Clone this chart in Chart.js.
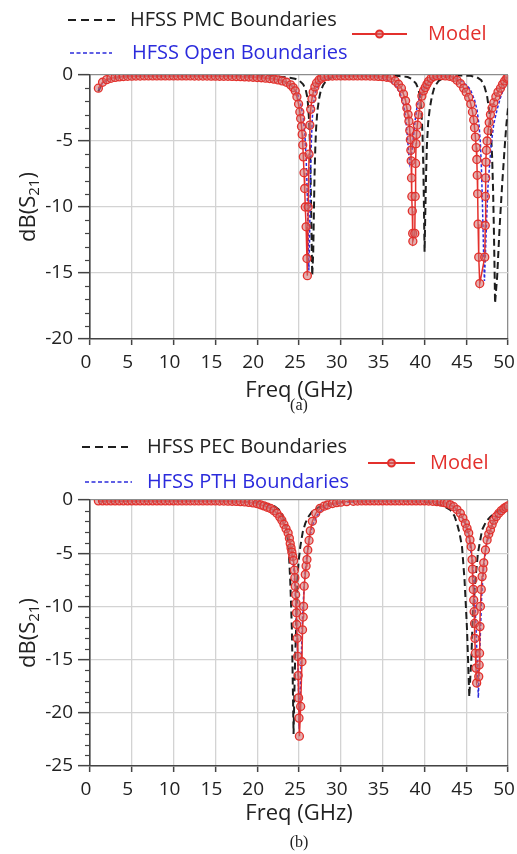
<!DOCTYPE html>
<html>
<head>
<meta charset="utf-8">
<script src="https://cdn.jsdelivr.net/npm/chart.js@4.4.0/dist/chart.umd.min.js"></script>
<style>
  body { margin: 0; background: #fff; width: 517px; height: 854px; position: relative; overflow: hidden; }
  .wrap { position: absolute; left: 0; width: 517px; }
  #wa { top: 0; height: 420px; }
  #wb { top: 420px; height: 434px; }
  .cap { position: absolute; left: 90px; width: 418px; text-align: center; font-family: 'Liberation Serif', serif; font-size: 16px; color: #222; }
</style>
</head>
<body>
<div class="wrap" id="wa"><canvas id="chartA" width="517" height="420"></canvas></div>
<div class="wrap" id="wb"><canvas id="chartB" width="517" height="434"></canvas></div>
<div class="cap" style="top:396px">(a)</div>
<div class="cap" style="top:833px">(b)</div>
<script>
// ---- data: [freq GHz, dB(S21)] ----
const freqMin = 0, freqMax = 50, freqStep = 5;
const dbStep = 5;
const dbMinA = -20, dbMinB = -25;

// (a)
const modelA = [[1.0,-1.0],[1.5,-0.55],[2.0,-0.35],[2.5,-0.25],[3.0,-0.18],[3.5,-0.14],[4.0,-0.12],[4.5,-0.1],[5.0,-0.09],[5.5,-0.08],[6.0,-0.08],[6.5,-0.07],[7.0,-0.07],[7.5,-0.07],[8.0,-0.07],[8.5,-0.07],[9.0,-0.07],[9.5,-0.07],[10.0,-0.07],[10.5,-0.07],[11.0,-0.07],[11.5,-0.07],[12.0,-0.07],[12.5,-0.08],[13.0,-0.08],[13.5,-0.08],[14.0,-0.08],[14.5,-0.09],[15.0,-0.09],[15.5,-0.1],[16.0,-0.1],[16.5,-0.1],[17.0,-0.11],[17.5,-0.12],[18.0,-0.13],[18.5,-0.14],[19.0,-0.15],[19.5,-0.17],[20.0,-0.19],[20.5,-0.21],[21.0,-0.24],[21.5,-0.27],[22.0,-0.31],[22.5,-0.37],[23.0,-0.45],[23.5,-0.55],[24.0,-0.75],[24.3,-0.95],[24.55,-1.2],[24.75,-1.65],[24.95,-2.2],[25.1,-2.8],[25.2,-3.3],[25.3,-3.9],[25.38,-4.5],[25.45,-5.3],[25.52,-6.2],[25.6,-7.4],[25.68,-8.6],[25.75,-10.0],[25.85,-11.5],[25.95,-13.9],[26.0,-15.2],[26.1,-10.0],[26.2,-6.0],[26.3,-3.8],[26.4,-2.6],[26.55,-1.8],[26.7,-1.3],[26.9,-0.9],[27.1,-0.6],[27.4,-0.38],[27.7,-0.24],[28.0,-0.15],[28.5,-0.1],[29.0,-0.08],[29.5,-0.07],[30.0,-0.07],[30.5,-0.07],[31.0,-0.07],[31.5,-0.07],[32.0,-0.07],[32.5,-0.07],[33.0,-0.07],[33.5,-0.08],[34.0,-0.09],[34.5,-0.11],[35.0,-0.13],[35.5,-0.17],[36.0,-0.22],[36.5,-0.45],[36.9,-0.7],[37.25,-1.0],[37.5,-1.45],[37.75,-1.95],[37.9,-2.5],[38.05,-3.0],[38.15,-3.5],[38.25,-4.2],[38.32,-4.9],[38.38,-5.7],[38.42,-6.5],[38.46,-7.8],[38.5,-9.2],[38.55,-10.3],[38.6,-12.0],[38.62,-12.6],[38.85,-12.0],[38.9,-9.2],[38.95,-6.7],[39.0,-5.2],[39.05,-4.5],[39.15,-3.8],[39.3,-3.0],[39.5,-2.25],[39.7,-1.6],[39.9,-1.2],[40.1,-0.95],[40.3,-0.7],[40.5,-0.48],[40.8,-0.25],[41.1,-0.12],[41.5,-0.06],[42.0,-0.05],[42.5,-0.07],[43.0,-0.1],[43.5,-0.18],[43.9,-0.4],[44.3,-0.65],[44.7,-1.0],[45.0,-1.3],[45.3,-1.7],[45.55,-2.2],[45.75,-2.8],[45.9,-3.4],[46.0,-4.0],[46.1,-4.7],[46.2,-5.5],[46.27,-6.4],[46.32,-7.6],[46.37,-9.0],[46.42,-11.3],[46.5,-13.8],[46.62,-15.8],[47.22,-13.8],[47.28,-11.4],[47.3,-9.2],[47.33,-7.8],[47.36,-6.6],[47.42,-5.7],[47.5,-5.0],[47.62,-4.2],[47.75,-3.6],[47.9,-3.0],[48.1,-2.5],[48.3,-2.1],[48.55,-1.65],[48.8,-1.3],[49.1,-1.0],[49.35,-0.7],[49.6,-0.45],[49.85,-0.25],[50.0,-0.17]];

const pmcA = [[1.0,-1.25],[1.3,-0.8],[1.7,-0.5],[2.2,-0.32],[3.0,-0.2],[4.0,-0.12],[5.0,-0.08],[7.0,-0.05],[10.0,-0.04],[15.0,-0.04],[20.0,-0.06],[22.0,-0.1],[23.5,-0.17],[24.5,-0.28],[25.0,-0.4],[25.5,-0.7],[25.8,-1.1],[26.0,-1.7],[26.1,-2.4],[26.2,-3.4],[26.3,-5.0],[26.38,-7.2],[26.45,-10.2],[26.52,-13.0],[26.58,-15.2],[26.7,-13.5],[26.78,-10.5],[26.85,-7.8],[26.95,-5.5],[27.05,-4.0],[27.2,-2.7],[27.4,-1.8],[27.6,-1.2],[27.9,-0.75],[28.3,-0.4],[28.8,-0.2],[29.5,-0.1],[31.0,-0.04],[34.0,-0.03],[36.0,-0.05],[37.0,-0.08],[38.0,-0.15],[38.5,-0.3],[39.0,-0.65],[39.3,-1.1],[39.5,-1.8],[39.65,-2.8],[39.78,-4.6],[39.88,-7.2],[39.95,-10.2],[40.02,-13.4],[40.1,-10.7],[40.2,-7.6],[40.3,-5.3],[40.45,-3.6],[40.65,-2.5],[40.9,-1.6],[41.2,-0.9],[41.7,-0.45],[42.3,-0.2],[43.0,-0.08],[44.0,-0.04],[45.5,-0.06],[46.3,-0.18],[46.8,-0.4],[47.2,-0.9],[47.5,-1.6],[47.75,-2.7],[47.95,-4.2],[48.1,-6.2],[48.22,-8.8],[48.32,-12.0],[48.4,-15.0],[48.45,-17.3],[48.7,-15.3],[49.0,-11.5],[49.3,-8.3],[49.6,-5.5],[49.8,-3.8],[50.0,-2.5]];

const openA = [[1.0,-1.1],[1.5,-0.6],[2.0,-0.38],[3.0,-0.2],[4.0,-0.12],[5.0,-0.08],[8.0,-0.06],[12.0,-0.06],[16.0,-0.08],[19.0,-0.13],[21.0,-0.22],[22.5,-0.35],[23.5,-0.55],[24.3,-0.9],[24.8,-1.4],[25.2,-2.2],[25.5,-3.2],[25.7,-4.5],[25.85,-6.2],[25.97,-8.5],[26.06,-11.0],[26.13,-13.5],[26.18,-14.8],[26.25,-13.0],[26.32,-10.0],[26.4,-7.0],[26.5,-4.7],[26.6,-3.2],[26.75,-2.1],[27.0,-1.2],[27.4,-0.6],[28.0,-0.3],[29.0,-0.12],[30.5,-0.06],[32.0,-0.06],[33.5,-0.1],[34.5,-0.18],[35.3,-0.3],[36.0,-0.5],[36.6,-0.85],[37.1,-1.4],[37.5,-2.2],[37.75,-3.2],[37.95,-4.5],[38.1,-5.8],[38.25,-6.7],[38.4,-6.3],[38.5,-5.8],[38.7,-4.6],[38.9,-3.4],[39.1,-2.5],[39.4,-1.7],[39.8,-1.1],[40.3,-0.65],[41.0,-0.3],[41.7,-0.12],[42.5,-0.08],[43.5,-0.15],[44.3,-0.4],[45.0,-0.75],[45.5,-1.1],[46.0,-1.9],[46.3,-2.65],[46.55,-3.9],[46.7,-5.2],[46.82,-7.0],[46.92,-9.2],[47.02,-11.8],[47.1,-14.0],[47.18,-15.6],[47.3,-13.5],[47.45,-10.8],[47.6,-8.5],[47.8,-6.8],[48.0,-5.2],[48.3,-3.7],[48.7,-2.6],[49.1,-1.7],[49.5,-1.0],[49.8,-0.7],[50.0,-0.5]];

// (b)
const modelB = [[1.0,-0.08],[1.5,-0.08],[2.0,-0.08],[2.5,-0.08],[3.0,-0.08],[3.5,-0.08],[4.0,-0.08],[4.5,-0.08],[5.0,-0.08],[5.5,-0.08],[6.0,-0.08],[6.5,-0.08],[7.0,-0.08],[7.5,-0.08],[8.0,-0.08],[8.5,-0.08],[9.0,-0.08],[9.5,-0.08],[10.0,-0.08],[10.5,-0.09],[11.0,-0.09],[11.5,-0.09],[12.0,-0.09],[12.5,-0.09],[13.0,-0.09],[13.5,-0.09],[14.0,-0.09],[14.5,-0.09],[15.0,-0.09],[15.5,-0.1],[16.0,-0.1],[16.5,-0.11],[17.0,-0.12],[17.5,-0.13],[18.0,-0.15],[18.5,-0.18],[19.0,-0.22],[19.5,-0.27],[20.0,-0.35],[20.4,-0.45],[20.8,-0.55],[21.2,-0.68],[21.6,-0.8],[22.0,-1.0],[22.35,-1.25],[22.7,-1.6],[22.95,-1.9],[23.2,-2.3],[23.45,-2.7],[23.7,-3.1],[23.85,-3.6],[23.95,-4.1],[24.05,-4.5],[24.15,-4.9],[24.25,-5.3],[24.35,-5.7],[24.45,-6.6],[24.5,-7.3],[24.55,-8.1],[24.6,-8.9],[24.65,-9.7],[24.7,-10.6],[24.73,-11.7],[24.78,-13.0],[24.85,-14.7],[24.9,-16.5],[24.95,-18.6],[25.0,-20.5],[25.05,-22.2],[25.2,-19.4],[25.35,-15.2],[25.42,-12.2],[25.5,-11.0],[25.55,-10.0],[25.62,-8.1],[25.75,-7.0],[25.85,-6.2],[25.95,-5.6],[26.05,-4.7],[26.2,-3.8],[26.35,-2.9],[26.6,-2.0],[27.0,-1.25],[27.5,-0.8],[28.0,-0.58],[28.4,-0.47],[29.0,-0.33],[29.5,-0.25],[30.0,-0.2],[30.7,-0.15],[31.5,-0.12],[32.0,-0.1],[32.5,-0.09],[33.0,-0.08],[33.5,-0.08],[34.0,-0.08],[34.5,-0.08],[35.0,-0.08],[35.5,-0.08],[36.0,-0.08],[36.5,-0.08],[37.0,-0.08],[37.5,-0.08],[38.0,-0.08],[38.5,-0.08],[39.0,-0.08],[39.5,-0.08],[40.0,-0.08],[40.5,-0.1],[41.0,-0.12],[41.5,-0.15],[42.0,-0.2],[42.4,-0.25],[42.7,-0.3],[43.1,-0.45],[43.5,-0.63],[43.9,-0.9],[44.3,-1.25],[44.6,-1.7],[44.9,-2.2],[45.1,-2.65],[45.3,-3.1],[45.45,-3.75],[45.6,-4.4],[45.7,-5.6],[45.75,-6.5],[45.8,-7.5],[45.85,-8.4],[45.9,-9.4],[45.95,-10.5],[46.0,-11.6],[46.05,-13.0],[46.1,-14.4],[46.17,-15.8],[46.25,-17.2],[46.5,-16.6],[46.55,-15.5],[46.6,-14.4],[46.65,-11.9],[46.7,-10.0],[46.8,-8.4],[46.9,-7.2],[47.0,-6.5],[47.1,-5.9],[47.3,-4.7],[47.5,-3.75],[47.7,-3.2],[47.9,-2.8],[48.1,-2.3],[48.3,-1.9],[48.6,-1.55],[48.9,-1.25],[49.2,-1.0],[49.5,-0.8],[49.75,-0.67],[50.0,-0.56]];

const pecB = [[1.0,-0.12],[5.0,-0.08],[10.0,-0.08],[15.0,-0.1],[18.0,-0.15],[20.0,-0.22],[21.0,-0.33],[22.0,-0.55],[22.6,-0.9],[23.0,-1.4],[23.3,-2.1],[23.55,-3.0],[23.75,-4.4],[23.95,-7.5],[24.05,-9.8],[24.15,-12.2],[24.25,-16.9],[24.35,-22.0],[24.45,-18.0],[24.55,-14.5],[24.65,-12.2],[24.8,-7.5],[24.95,-5.8],[25.15,-4.4],[25.45,-3.0],[25.75,-2.2],[26.1,-1.6],[26.55,-1.1],[27.3,-0.7],[28.3,-0.42],[29.5,-0.25],[31.0,-0.15],[34.0,-0.1],[38.0,-0.1],[40.0,-0.17],[41.3,-0.3],[42.3,-0.55],[43.1,-0.94],[43.6,-1.5],[43.9,-2.2],[44.2,-3.1],[44.5,-4.4],[44.8,-7.5],[44.95,-9.8],[45.1,-12.2],[45.22,-15.0],[45.3,-16.9],[45.37,-18.5],[45.5,-16.5],[45.6,-15.3],[45.8,-10.6],[46.1,-7.5],[46.4,-5.0],[46.9,-2.8],[47.4,-2.0],[47.9,-1.57],[48.5,-1.2],[49.1,-0.94],[50.0,-0.63]];

const pthB = [[1.0,-0.08],[5.0,-0.07],[10.0,-0.07],[15.0,-0.09],[18.0,-0.15],[20.0,-0.33],[21.5,-0.7],[22.5,-1.3],[23.2,-2.2],[23.7,-3.2],[24.1,-4.7],[24.4,-6.6],[24.6,-9.5],[24.78,-13.0],[24.92,-17.0],[25.03,-21.5],[25.15,-18.0],[25.3,-14.0],[25.45,-10.5],[25.65,-7.5],[25.9,-5.5],[26.2,-3.8],[26.6,-2.4],[27.2,-1.4],[28.0,-0.75],[29.0,-0.4],[30.5,-0.2],[33.0,-0.1],[38.0,-0.08],[41.0,-0.15],[42.5,-0.3],[43.5,-0.65],[44.3,-1.3],[44.9,-2.3],[45.4,-3.8],[45.75,-6.0],[46.0,-9.0],[46.2,-12.5],[46.35,-16.0],[46.45,-18.6],[46.55,-16.0],[46.7,-12.5],[46.85,-9.0],[47.1,-6.2],[47.4,-4.3],[47.8,-3.0],[48.3,-2.0],[49.0,-1.3],[49.6,-0.85],[50.0,-0.65]];

// ---- styling ----
const FONT = "'Open Sans', sans-serif";
const RED = '#e3302c', BLUE = '#2b2bdc', BLACK = '#1e1e1e';
const toXY = pts => pts.map(p => ({ x: p[0], y: p[1] }));

// legend, y-title and minor ticks drawn on the canvas
const decor = {
  id: 'decor',
  afterDraw(chart, args, opts) {
    const ctx = chart.ctx;
    const { left, top, bottom } = chart.chartArea;
    const ys = chart.scales.y;
    ctx.save();
    // minor ticks every 1 dB
    ctx.strokeStyle = '#444';
    ctx.lineWidth = 1.2;
    for (let v = ys.min; v <= ys.max; v++) {
      if (v % 5 === 0) continue;
      const py = Math.round(ys.getPixelForValue(v)) + 0.5;
      ctx.beginPath(); ctx.moveTo(left - 5, py); ctx.lineTo(left, py); ctx.stroke();
    }
    // y title dB(S21)
    ctx.fillStyle = '#222';
    ctx.textBaseline = 'middle';
    ctx.translate(29, (top + bottom) / 2);
    ctx.rotate(-Math.PI / 2);
    const big = `22px ${FONT}`, small = `15px ${FONT}`;
    ctx.font = big; const w1 = ctx.measureText('dB(S').width, w3 = ctx.measureText(')').width;
    ctx.font = small; const w2 = ctx.measureText('21').width;
    let x0 = -(w1 + w2 + w3) / 2;
    ctx.font = big; ctx.textAlign = 'left'; ctx.fillText('dB(S', x0, 0);
    ctx.font = small; ctx.fillText('21', x0 + w1, 6);
    ctx.font = big; ctx.fillText(')', x0 + w1 + w2, 0);
    ctx.setTransform(1, 0, 0, 1, 0, 0);
    // legend
    opts.items.forEach(it => {
      ctx.strokeStyle = it.color;
      ctx.lineWidth = it.width;
      ctx.setLineDash(it.dash || []);
      ctx.beginPath(); ctx.moveTo(it.x1, it.y); ctx.lineTo(it.x2, it.y); ctx.stroke();
      ctx.setLineDash([]);
      if (it.marker) {
        ctx.beginPath(); ctx.arc((it.x1 + it.x2) / 2, it.y, 3.5, 0, Math.PI * 2);
        ctx.fillStyle = 'rgba(205,110,110,0.6)'; ctx.fill(); ctx.stroke();
      }
      ctx.font = `20px ${FONT}`;
      ctx.fillStyle = it.textColor;
      ctx.textAlign = 'left';
      ctx.textBaseline = 'middle';
      ctx.fillText(it.text, it.tx, it.y);
    });
    ctx.restore();
  }
};

function makeChart(id, dbMin, sets, legendItems, padTop, xAxisH, titlePad) {
  return new Chart(document.getElementById(id), {
    type: 'line',
    data: {
      datasets: [
        { label: sets[0].label, data: toXY(sets[0].pts), borderColor: RED, borderWidth: 1.5,
          pointRadius: 4, pointBorderWidth: 1.3, pointBorderColor: RED,
          pointBackgroundColor: 'rgba(205,110,110,0.55)', order: 1 },
        { label: sets[1].label, data: toXY(sets[1].pts), borderColor: BLUE, borderWidth: 1.5,
          borderDash: [3, 2], pointRadius: 0, order: 2 },
        { label: sets[2].label, data: toXY(sets[2].pts), borderColor: BLACK, borderWidth: 2,
          borderDash: [7, 4], pointRadius: 0, order: 3 }
      ]
    },
    options: {
      responsive: false,
      animation: false,
      events: [],
      layout: { padding: { top: padTop, right: 9, left: 0, bottom: 0 } },
      elements: { line: { tension: 0 } },
      scales: {
        x: {
          type: 'linear', min: freqMin, max: freqMax,
          afterFit: s => { s.height = xAxisH; s.paddingLeft = 0; s.paddingRight = 0; },
          ticks: { stepSize: freqStep, padding: 6, labelOffset: -4, color: '#222', font: { family: FONT, size: 19 } },
          grid: { color: c => (c.tick && c.tick.value === freqMax) ? '#8c8c8c' : '#d3d3d3',
                  lineWidth: 1.3, tickLength: 6, tickColor: '#444', tickWidth: 1.5 },
          border: { color: '#444', width: 1.6 },
          title: { display: true, text: 'Freq (GHz)', color: '#222',
                   font: { family: FONT, size: 22 }, padding: { top: 0, bottom: titlePad } }
        },
        y: {
          type: 'linear', min: dbMin, max: 0,
          afterFit: s => { s.width = 90; },
          ticks: { stepSize: dbStep, padding: 5, color: '#222', font: { family: FONT, size: 19 } },
          grid: { color: c => (c.tick && c.tick.value === 0) ? '#8c8c8c' : '#d3d3d3',
                  lineWidth: 1.3, tickLength: 12, tickColor: '#444', tickWidth: 1.5 },
          border: { color: '#444', width: 1.6 }
        }
      },
      plugins: {
        legend: { display: false },
        tooltip: { enabled: false },
        decor: { items: legendItems }
      }
    },
    plugins: [decor]
  });
}

makeChart('chartA', dbMinA, [
  { label: 'Model', pts: modelA },
  { label: 'HFSS Open Boundaries', pts: openA },
  { label: 'HFSS PMC Boundaries', pts: pmcA }
], [
  { text: 'HFSS PMC Boundaries', color: BLACK, textColor: '#222', width: 2, dash: [8, 5], x1: 68, x2: 115, y: 20, tx: 130 },
  { text: 'Model', color: RED, textColor: RED, width: 2, marker: true, x1: 352, x2: 407, y: 34, tx: 428 },
  { text: 'HFSS Open Boundaries', color: BLUE, textColor: BLUE, width: 1.6, dash: [4, 2.5], x1: 70, x2: 112, y: 53, tx: 132 }
], 75, 81, 16);

makeChart('chartB', dbMinB, [
  { label: 'Model', pts: modelB },
  { label: 'HFSS PTH Boundaries', pts: pthB },
  { label: 'HFSS PEC Boundaries', pts: pecB }
], [
  { text: 'HFSS PEC Boundaries', color: BLACK, textColor: '#222', width: 2, dash: [8, 5], x1: 82, x2: 128, y: 27, tx: 147 },
  { text: 'Model', color: RED, textColor: RED, width: 2, marker: true, x1: 368, x2: 415, y: 43, tx: 430 },
  { text: 'HFSS PTH Boundaries', color: BLUE, textColor: BLUE, width: 1.6, dash: [4, 2.5], x1: 85, x2: 132, y: 62, tx: 147 }
], 80, 88, 27);
</script>
</body>
</html>
